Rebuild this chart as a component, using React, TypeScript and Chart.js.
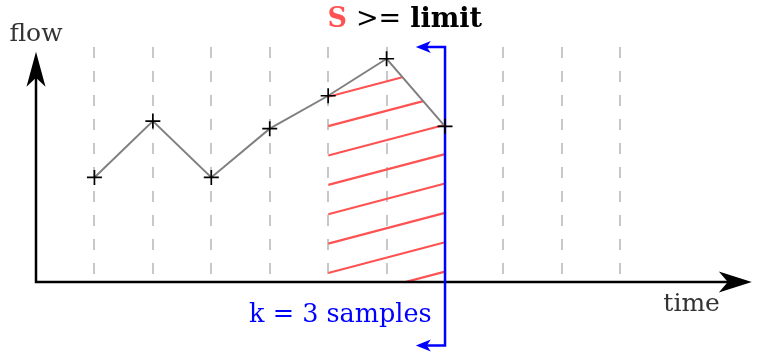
import { useEffect, useRef } from "react";
import { Chart, registerables } from "chart.js";

Chart.register(...registerables);

// Sampled flow values over time
const TIMES = [1, 2, 3, 4, 5, 6, 7];
const FLOW = [1.78, 2.74, 1.78, 2.61, 3.17, 3.8, 2.65];

// Dashed guide lines at each time step
const GRID_TIMES = [1, 2, 3, 4, 5, 6, 7, 8, 9, 10];

// Window of the last k = 3 samples whose sum S is compared to the limit
const WINDOW_START = 5;
const WINDOW_END = 7;

// Blue limit bracket (vertical extent and arm end)
const LIMIT_TOP = 4;
const LIMIT_BOTTOM = -1.08;
const BRACKET_ARM = 6.5;

// Hatching inside the window: first line height, spacing, rise per time unit
const HATCH_BASE = 0.153;
const HATCH_STEP = 0.5;
const HATCH_RISE = 0.262;

// Axis extents
const X_MAX = 12.25;
const Y_MAX = 4;
const Y_AXIS_TIP = 3.92;

// Text
const Y_LABEL = "flow";
const X_LABEL = "time";
const HEAD_S = "S";
const HEAD_OP = ">=";
const HEAD_LIMIT = "limit";
const WINDOW_LABEL = "k = 3 samples";

const RED = "#ff5252";
const BLUE = "#0000ff";
const GRAY_LINE = "#808080";
const GUIDE = "#c8c8c8";
const TEXT = "#333333";
const SERIF = '"DejaVu Serif", "Liberation Serif", serif';

function arrowHead(
  ctx: CanvasRenderingContext2D,
  tipX: number,
  tipY: number,
  dx: number,
  dy: number,
  len: number,
  half: number,
  notch: number,
  color: string
) {
  const px = -dy;
  const py = dx;
  const bx = tipX - dx * len;
  const by = tipY - dy * len;
  ctx.save();
  ctx.fillStyle = color;
  ctx.beginPath();
  ctx.moveTo(tipX, tipY);
  ctx.lineTo(bx + px * half, by + py * half);
  ctx.lineTo(tipX - dx * (len - notch), tipY - dy * (len - notch));
  ctx.lineTo(bx - px * half, by - py * half);
  ctx.closePath();
  ctx.fill();
  ctx.restore();
}

const hatchAndAxes = {
  id: "hatchAndAxes",
  beforeDatasetsDraw(chart: any) {
    const { ctx } = chart;
    const xs = chart.scales.x;
    const ys = chart.scales.y;
    const X = (v: number) => xs.getPixelForValue(v);
    const Y = (v: number) => ys.getPixelForValue(v);

    // red hatching under the window segment of the curve
    ctx.save();
    ctx.beginPath();
    ctx.moveTo(X(WINDOW_START), Y(0));
    TIMES.forEach((t, i) => {
      if (t >= WINDOW_START && t <= WINDOW_END) ctx.lineTo(X(t), Y(FLOW[i]));
    });
    ctx.lineTo(X(WINDOW_END), Y(0));
    ctx.closePath();
    ctx.clip();
    ctx.strokeStyle = RED;
    ctx.lineWidth = 2.2;
    ctx.beginPath();
    const span = WINDOW_END - WINDOW_START;
    for (let b = HATCH_BASE - HATCH_STEP * 4; b < Y_MAX; b += HATCH_STEP) {
      ctx.moveTo(X(WINDOW_START), Y(b));
      ctx.lineTo(X(WINDOW_END), Y(b + HATCH_RISE * span));
    }
    ctx.stroke();
    ctx.restore();

    // axes with arrow tips
    ctx.save();
    ctx.strokeStyle = "#000";
    ctx.lineWidth = 2.5;
    ctx.beginPath();
    ctx.moveTo(X(0), Y(0) + 1.25);
    ctx.lineTo(X(0), Y(Y_AXIS_TIP) + 12);
    ctx.moveTo(X(0) - 1.25, Y(0));
    ctx.lineTo(X(X_MAX) - 12, Y(0));
    ctx.stroke();
    ctx.restore();
    arrowHead(ctx, X(X_MAX), Y(0), 1, 0, 33, 10.5, 9, "#000");
    arrowHead(ctx, X(0), Y(Y_AXIS_TIP), 0, -1, 35, 9.5, 9, "#000");
  },
  afterDatasetsDraw(chart: any) {
    const { ctx } = chart;
    const xs = chart.scales.x;
    const ys = chart.scales.y;
    const X = (v: number) => xs.getPixelForValue(v);
    const Y = (v: number) => ys.getPixelForValue(v);

    // bracket arrow tips
    arrowHead(ctx, X(BRACKET_ARM), Y(LIMIT_TOP), -1, 0, 15, 6, 4, BLUE);
    arrowHead(ctx, X(BRACKET_ARM), Y(LIMIT_BOTTOM), -1, 0, 15, 6, 4, BLUE);

    ctx.save();
    ctx.textBaseline = "alphabetic";
    ctx.font = `25px ${SERIF}`;
    ctx.fillStyle = TEXT;
    ctx.textAlign = "center";
    ctx.fillText(Y_LABEL, X(0), Y(4.1));
    ctx.fillText(X_LABEL, X(11.22), Y(-0.49));

    ctx.fillStyle = BLUE;
    ctx.textAlign = "right";
    ctx.font = `25.5px ${SERIF}`;
    ctx.fillText(WINDOW_LABEL, X(6.77), Y(-0.68));

    // heading: S >= limit
    const bold = `bold 27px ${SERIF}`;
    const normal = `27px ${SERIF}`;
    const gap = 9;
    ctx.font = bold;
    const wS = ctx.measureText(HEAD_S).width;
    const wL = ctx.measureText(HEAD_LIMIT).width;
    ctx.font = normal;
    const wOp = ctx.measureText(HEAD_OP).width;
    const total = wS + gap + wOp + gap + wL;
    let x = X(6.31) - total / 2;
    const yb = Y(4.34);
    ctx.textAlign = "left";
    ctx.font = bold;
    ctx.fillStyle = RED;
    ctx.fillText(HEAD_S, x, yb);
    x += wS + gap;
    ctx.font = normal;
    ctx.fillStyle = "#000";
    ctx.fillText(HEAD_OP, x, yb);
    x += wOp + gap;
    ctx.font = bold;
    ctx.fillText(HEAD_LIMIT, x, yb);
    ctx.restore();
  },
};

export default function App() {
  const canvasRef = useRef<HTMLCanvasElement | null>(null);

  useEffect(() => {
    const canvas = canvasRef.current;
    if (!canvas) return;
    const chart = new Chart(canvas, {
      type: "line",
      data: {
        datasets: [
          {
            data: TIMES.map((t, i) => ({ x: t, y: FLOW[i] })),
            borderColor: GRAY_LINE,
            borderWidth: 2,
            pointStyle: "cross",
            pointRadius: 7.5,
            pointBorderColor: "#000",
            pointBorderWidth: 1.7,
            tension: 0,
            clip: false,
            order: 0,
          },
          {
            data: [
              { x: BRACKET_ARM + 0.1, y: LIMIT_TOP },
              { x: WINDOW_END, y: LIMIT_TOP },
              { x: WINDOW_END, y: LIMIT_BOTTOM },
              { x: BRACKET_ARM + 0.1, y: LIMIT_BOTTOM },
            ],
            borderColor: BLUE,
            borderWidth: 2.5,
            pointRadius: 0,
            tension: 0,
            clip: false,
            order: 1,
          },
        ],
      },
      options: {
        animation: false,
        responsive: false,
        events: [],
        layout: { padding: { left: 36, right: 4, top: 47, bottom: 72 } },
        plugins: { legend: { display: false }, tooltip: { enabled: false } },
        scales: {
          x: {
            type: "linear",
            min: 0,
            max: X_MAX,
            ticks: { display: false, stepSize: 1 },
            grid: {
              drawTicks: false,
              lineWidth: 2,
              color: (c: any) =>
                GRID_TIMES.includes(c.tick?.value) ? GUIDE : "rgba(0,0,0,0)",
              borderDash: [11, 13],
            } as any,
            border: { display: false, dash: [11, 13] },
          },
          y: { type: "linear", display: false, min: 0, max: Y_MAX },
        },
      },
      plugins: [hatchAndAxes],
    });
    return () => chart.destroy();
  }, []);

  return (
    <div style={{ position: "absolute", left: 0, top: 0, width: 761, height: 354, background: "#fff" }}>
      <canvas ref={canvasRef} width={761} height={354} />
    </div>
  );
}
